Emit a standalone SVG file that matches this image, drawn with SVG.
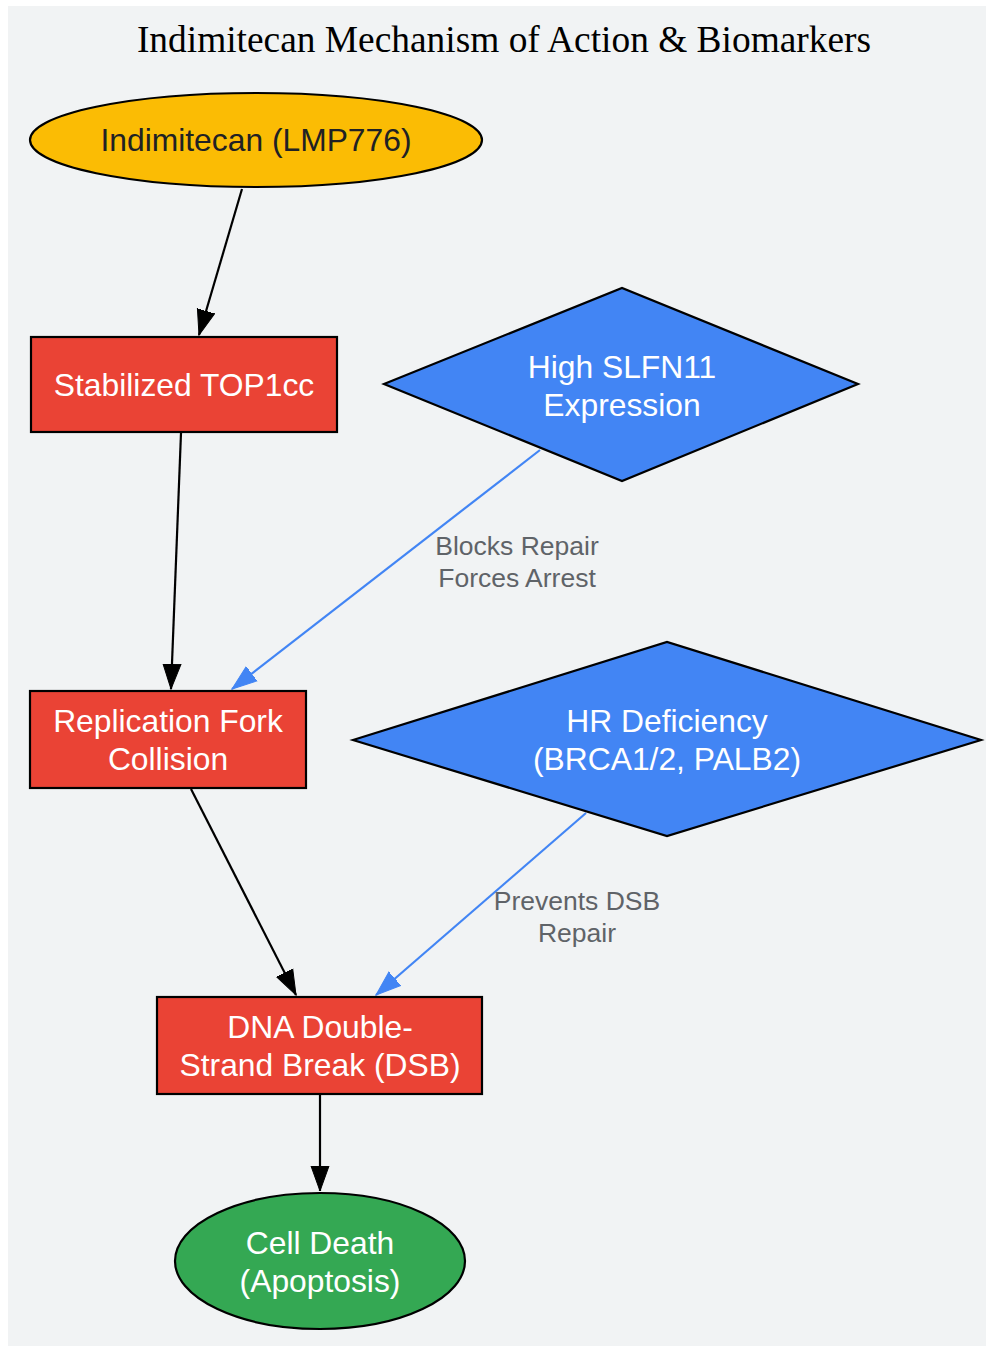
<svg xmlns="http://www.w3.org/2000/svg" width="986" height="1346" viewBox="0 0 986 1346">
<style>
.bg{fill:#f1f3f4}
.title{font-family:"Liberation Serif","Times New Roman",serif;font-size:37.4px;fill:#000;text-anchor:middle}
.lbl{font-family:"Liberation Sans",Arial,sans-serif;font-size:31.8px;text-anchor:middle;fill:#fff}
.dark{fill:#202124}
.elbl{font-family:"Liberation Sans",Arial,sans-serif;font-size:26.5px;text-anchor:middle;fill:#5f6368}
.shape{stroke:#000;stroke-width:2.2}
.e{fill:none;stroke-width:2.2}
.k{stroke:#000}
.b{stroke:#4285f4}
</style>
<defs>
<marker id="ak" markerUnits="userSpaceOnUse" markerWidth="26" markerHeight="20" refX="25" refY="10" orient="auto" viewBox="0 0 26 20">
<path d="M0,1 L25,10 L0,19 z" fill="#000" stroke="#000" stroke-width="1"/>
</marker>
<marker id="ab" markerUnits="userSpaceOnUse" markerWidth="26" markerHeight="20" refX="25" refY="10" orient="auto" viewBox="0 0 26 20">
<path d="M0,1 L25,10 L0,19 z" fill="#4285f4" stroke="#4285f4" stroke-width="1"/>
</marker>
</defs>
<rect class="bg" x="8" y="6" width="978" height="1340"/>
<text class="title" x="504" y="52">Indimitecan Mechanism of Action &amp; Biomarkers</text>
<g id="connectors">
<line class="e k" x1="242" y1="189" x2="199" y2="335" marker-end="url(#ak)"/>
<line class="e k" x1="181" y1="433" x2="171" y2="689" marker-end="url(#ak)"/>
<line class="e b" x1="540" y1="450" x2="232" y2="689" marker-end="url(#ab)"/>
<line class="e k" x1="191" y1="789" x2="296" y2="995" marker-end="url(#ak)"/>
<line class="e b" x1="586" y1="813" x2="376" y2="995" marker-end="url(#ab)"/>
<line class="e k" x1="320" y1="1095" x2="320" y2="1191" marker-end="url(#ak)"/>
<text class="elbl" x="517" y="555">Blocks Repair</text>
<text class="elbl" x="517" y="587">Forces Arrest</text>
<text class="elbl" x="577" y="910">Prevents DSB</text>
<text class="elbl" x="577" y="942">Repair</text>
</g>
<g id="drug">
<ellipse class="shape" cx="256" cy="140" rx="226" ry="47" fill="#fbbc04"/>
<text class="lbl dark" x="256" y="151">Indimitecan (LMP776)</text>
</g>
<g id="top1cc">
<rect class="shape" x="31" y="337" width="306" height="95" fill="#ea4335"/>
<text class="lbl" x="184" y="396">Stabilized TOP1cc</text>
</g>
<g id="slfn11">
<polygon class="shape" points="384,384 622,288 858,384 622,481" fill="#4285f4"/>
<text class="lbl" x="622" y="378">High SLFN11</text>
<text class="lbl" x="622" y="416">Expression</text>
</g>
<g id="fork">
<rect class="shape" x="30" y="691" width="276" height="97" fill="#ea4335"/>
<text class="lbl" x="168" y="732">Replication Fork</text>
<text class="lbl" x="168" y="770">Collision</text>
</g>
<g id="hrd">
<polygon class="shape" points="353,740 667,642 981,740 667,836" fill="#4285f4"/>
<text class="lbl" x="667" y="732">HR Deficiency</text>
<text class="lbl" x="667" y="770">(BRCA1/2, PALB2)</text>
</g>
<g id="dsb">
<rect class="shape" x="157" y="997" width="325" height="97" fill="#ea4335"/>
<text class="lbl" x="320" y="1038">DNA Double-</text>
<text class="lbl" x="320" y="1076">Strand Break (DSB)</text>
</g>
<g id="death">
<ellipse class="shape" cx="320" cy="1261" rx="145" ry="68" fill="#34a853"/>
<text class="lbl" x="320" y="1254">Cell Death</text>
<text class="lbl" x="320" y="1292">(Apoptosis)</text>
</g>
</svg>
